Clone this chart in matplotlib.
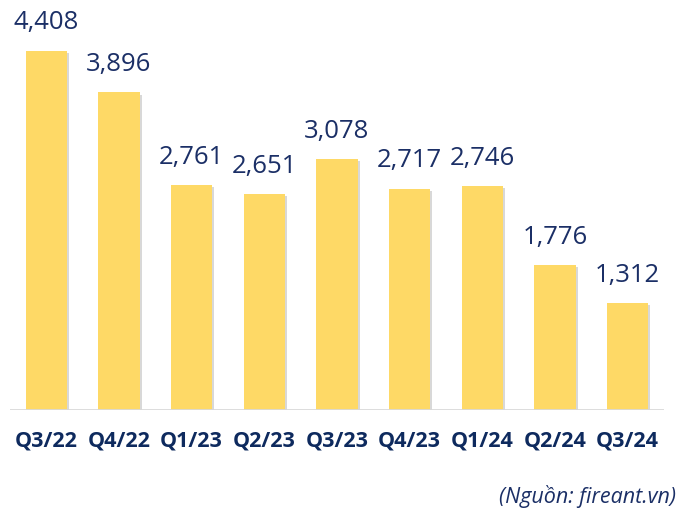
import matplotlib
matplotlib.use("Agg")
import matplotlib.pyplot as plt
import matplotlib.patheffects as pe

categories = ["Q3/22", "Q4/22", "Q1/23", "Q2/23", "Q3/23", "Q4/23", "Q1/24", "Q2/24", "Q3/24"]
values = [4408, 3896, 2761, 2651, 3078, 2717, 2746, 1776, 1312]
source = "(Nguồn: fireant.vn)"

plt.rcParams['font.family'] = ['Open Sans', 'DejaVu Sans']
W, H = 681, 512
fig = plt.figure(figsize=(W/100, H/100), dpi=100)
ax = fig.add_axes([10/W, 102/H, 654/W, 410/H])

x = list(range(len(categories)))
bars = ax.bar(x, values, width=0.565, color="#FED966", zorder=2)
for b in bars:
    b.set_path_effects([pe.SimplePatchShadow(offset=(1.5, -1.5), shadow_rgbFace="#AAAAAA", alpha=0.45), pe.Normal()])

navy = "#1B2F66"
for xi, v in zip(x, values):
    ax.annotate(f"{v:,}", (xi, v), xytext=(0, 11), textcoords="offset points",
                ha="center", va="bottom", fontsize=18.5, color=navy)

ax.set_xlim(-0.5, 8.5)
ax.set_ylim(0, 5031)
ax.axhline(0, color="#D9D9D9", lw=2, zorder=3)
for s in ax.spines.values():
    s.set_visible(False)
ax.set_yticks([])
ax.set_xticks(x)
ax.set_xticklabels(categories, fontsize=15.5, fontweight="bold", color="#0E2A5E")
ax.tick_params(axis="x", length=0, pad=15)

fig.text(676/W, (512-497)/H, source, fontsize=15.5, style="italic", color=navy,
         ha="right", va="center")

fig.savefig("out.png", dpi=100)
